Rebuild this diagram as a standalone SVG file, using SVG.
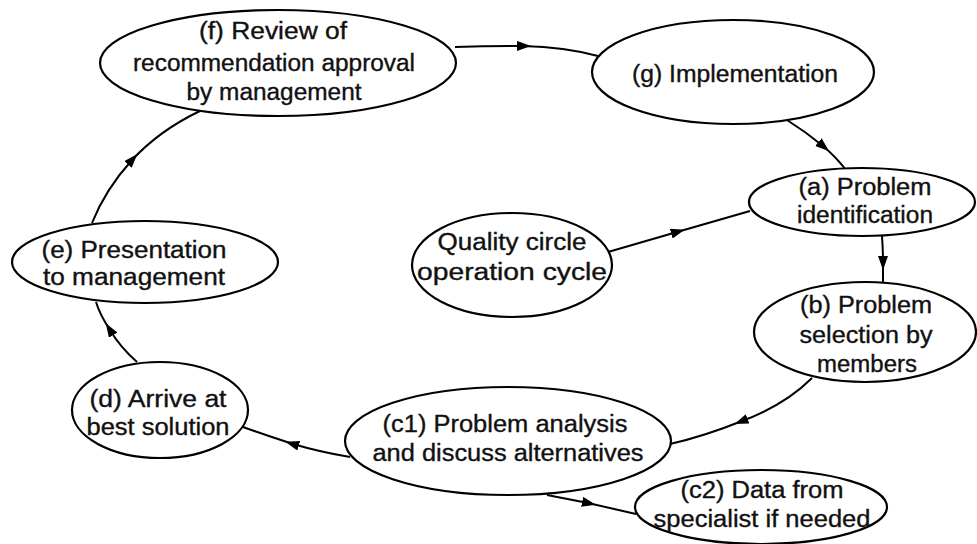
<svg xmlns="http://www.w3.org/2000/svg" width="977" height="544" viewBox="0 0 977 544">
  <style>
    .node ellipse { fill: #ffffff; stroke: #000000; stroke-width: 2.2; }
    .node text { font-family: "Liberation Sans", Arial, Helvetica, sans-serif; font-size: 23px; fill: #111111; stroke: #111111; stroke-width: 0.35; text-anchor: middle; }
    .edge { fill: none; stroke: #000000; stroke-width: 2; marker-mid: url(#arrow); }
  </style>
  <defs>
    <marker id="arrow" markerUnits="userSpaceOnUse" markerWidth="15" markerHeight="11" refX="6" refY="5" orient="auto">
      <path d="M0,0 L14,5 L0,10 z" fill="#000000"/>
    </marker>
  </defs>
  <rect width="977" height="544" fill="#ffffff"/>

  <g id="connectors">
    <path class="edge" d="M455,47 Q490,46 523,46 Q565,47 598,56"/>
    <path class="edge" d="M787,120 Q806,132 823,146 Q836,157 846,170"/>
    <path class="edge" d="M608,252 L677,232 L750,211"/>
    <path class="edge" d="M882,236 Q883,250 883,262 Q883,272 883,282"/>
    <path class="edge" d="M812,378 Q785,405 742,421 Q705,436 670,444"/>
    <path class="edge" d="M350,457 Q320,452 293,444 Q265,435 243,427"/>
    <path class="edge" d="M547,495 L588,503 L636,514"/>
    <path class="edge" d="M137,362 Q120,347 110,330 Q100,315 96,302"/>
    <path class="edge" d="M92,223 Q105,190 132,160 Q160,130 200,111"/>
  </g>

  <g id="node-f" class="node">
    <ellipse cx="278" cy="63" rx="178" ry="53"/>
    <text x="273" y="39" textLength="148" lengthAdjust="spacingAndGlyphs">(f) Review of</text>
    <text x="274" y="71" textLength="282" lengthAdjust="spacingAndGlyphs">recommendation approval</text>
    <text x="274" y="100" textLength="175" lengthAdjust="spacingAndGlyphs">by management</text>
  </g>

  <g id="node-g" class="node">
    <ellipse cx="733" cy="72" rx="141" ry="52"/>
    <text x="735" y="82" textLength="206" lengthAdjust="spacingAndGlyphs">(g) Implementation</text>
  </g>

  <g id="node-a" class="node">
    <ellipse cx="862" cy="202" rx="113" ry="34"/>
    <text x="865" y="195" textLength="133" lengthAdjust="spacingAndGlyphs">(a) Problem</text>
    <text x="865" y="223" textLength="136" lengthAdjust="spacingAndGlyphs">identification</text>
  </g>

  <g id="node-quality" class="node">
    <ellipse cx="512" cy="265" rx="100" ry="52"/>
    <text x="512" y="250" textLength="149" lengthAdjust="spacingAndGlyphs">Quality circle</text>
    <text x="512" y="280" textLength="190" lengthAdjust="spacingAndGlyphs">operation cycle</text>
  </g>

  <g id="node-b" class="node">
    <ellipse cx="865" cy="332" rx="111" ry="50"/>
    <text x="866" y="313" textLength="132" lengthAdjust="spacingAndGlyphs">(b) Problem</text>
    <text x="866" y="343" textLength="133" lengthAdjust="spacingAndGlyphs">selection by</text>
    <text x="867" y="372" textLength="100" lengthAdjust="spacingAndGlyphs">members</text>
  </g>

  <g id="node-c1" class="node">
    <ellipse cx="508" cy="441" rx="163" ry="54"/>
    <text x="505" y="432" textLength="245" lengthAdjust="spacingAndGlyphs">(c1) Problem analysis</text>
    <text x="508" y="461" textLength="271" lengthAdjust="spacingAndGlyphs">and discuss alternatives</text>
  </g>

  <g id="node-c2" class="node">
    <ellipse cx="761" cy="507" rx="126" ry="37"/>
    <text x="762" y="498" textLength="163" lengthAdjust="spacingAndGlyphs">(c2) Data from</text>
    <text x="762" y="527" textLength="217" lengthAdjust="spacingAndGlyphs">specialist if needed</text>
  </g>

  <g id="node-d" class="node">
    <ellipse cx="160" cy="410" rx="88" ry="48"/>
    <text x="158" y="407" textLength="137" lengthAdjust="spacingAndGlyphs">(d) Arrive at</text>
    <text x="158" y="435" textLength="143" lengthAdjust="spacingAndGlyphs">best solution</text>
  </g>

  <g id="node-e" class="node">
    <ellipse cx="145" cy="262" rx="133" ry="41"/>
    <text x="134" y="258" textLength="185" lengthAdjust="spacingAndGlyphs">(e) Presentation</text>
    <text x="134" y="285" textLength="182" lengthAdjust="spacingAndGlyphs">to management</text>
  </g>
</svg>
